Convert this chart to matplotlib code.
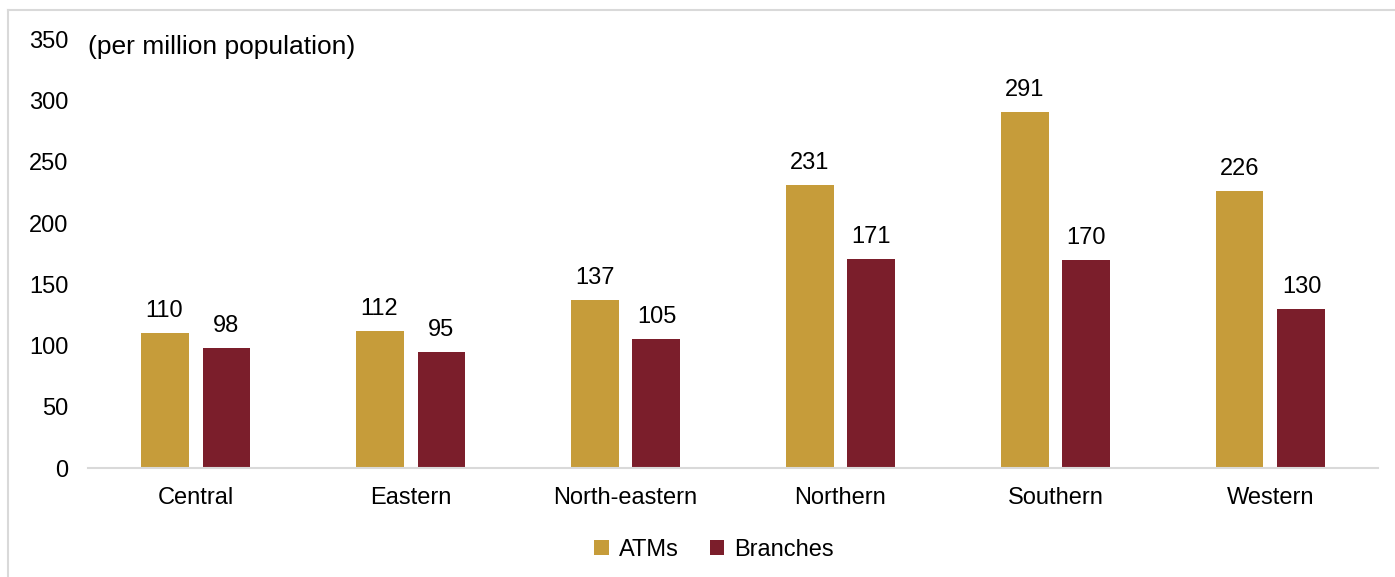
import matplotlib.pyplot as plt
from matplotlib.lines import Line2D
import numpy as np

plt.rcParams['font.family'] = ['Liberation Sans', 'DejaVu Sans']

regions = ["Central", "Eastern", "North-eastern", "Northern", "Southern", "Western"]
atms = [110, 112, 137, 231, 291, 226]
branches = [98, 95, 105, 171, 170, 130]

gold = "#C69C3A"
maroon = "#7B1E2B"
fs = 17

fig = plt.figure(figsize=(13.95, 5.77), dpi=100)
ax = fig.add_axes([0.0631, 0.1889, 0.9247, 0.7425])

x = np.arange(len(regions))
w = 0.223
off = 0.144
b1 = ax.bar(x - off, atms, w, color=gold, label="ATMs")
b2 = ax.bar(x + off, branches, w, color=maroon, label="Branches")

for bars, vals in ((b1, atms), (b2, branches)):
    for r, v in zip(bars, vals):
        ax.annotate(str(v), (r.get_x() + r.get_width() / 2, v), xytext=(0, 8),
                    textcoords="offset points", ha="center", va="bottom", fontsize=fs)

ax.set_xlim(-0.5, len(regions) - 0.5)
ax.set_ylim(0, 350)
ax.set_yticks(range(0, 351, 50))
ax.set_xticks(x)
ax.set_xticklabels(regions)
ax.tick_params(axis="both", length=0, labelsize=fs)
ax.tick_params(axis="y", pad=14)
ax.tick_params(axis="x", pad=13.5)
for s in ("top", "right", "left"):
    ax.spines[s].set_visible(False)
ax.spines["bottom"].set_color("#D9D9D9")
ax.spines["bottom"].set_linewidth(1.5)

ax.annotate("(per million population)", (0.0, 350), xytext=(0, -5), textcoords="offset points",
            xycoords=ax.get_yaxis_transform(), fontsize=19, ha="left", va="center")

fig.legend(handles=[b1, b2], loc="center", bbox_to_anchor=(0.512, 0.047), ncol=2,
           frameon=False, fontsize=fs, handlelength=0.6, handleheight=0.6,
           columnspacing=1.3, handletextpad=0.45)

# light frame around the chart area
fig.add_artist(Line2D([0.006, 0.006], [0.0, 0.983], color="#D9D9D9", lw=1.5))
fig.add_artist(Line2D([0.006, 1.0], [0.983, 0.983], color="#D9D9D9", lw=1.5))

fig.savefig("out.png", dpi=100)
